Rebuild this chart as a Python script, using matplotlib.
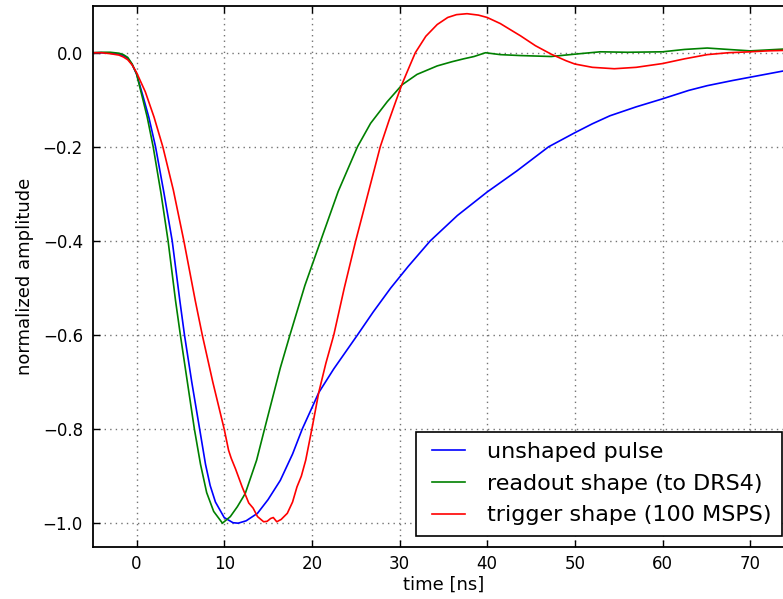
import matplotlib
matplotlib.use("Agg")
import matplotlib.pyplot as plt
from matplotlib.legend_handler import HandlerLine2D

# ---- data ----
blue_t = [-5, -4, -3, -2, -1.5, -1, -0.5, 0, 0.7, 1.4, 2.17, 3.1, 4.07, 4.94, 5.47, 6.3,
          7.2, 7.87, 8.4, 9.0, 10.0, 11.0, 11.6, 12.5, 13.8, 15.0, 16.4, 17.8, 18.9, 20.0,
          20.8, 22.5, 25.2, 27.0, 29.0, 31.0, 33.5, 36.6, 40.0, 43.4, 47.0, 50.0, 52.0,
          54.0, 57.0, 60.0, 63.0, 65.1, 68.0, 70.0, 72.0, 74.0, 75.0]
blue_v = [0.0, 0.0, -0.001, -0.003, -0.006, -0.012, -0.025, -0.045, -0.09, -0.137, -0.20,
          -0.295, -0.40, -0.527, -0.60, -0.70, -0.80, -0.875, -0.92, -0.955, -0.988, -0.999,
          -1.0, -0.995, -0.979, -0.95, -0.909, -0.853, -0.80, -0.755, -0.722, -0.672, -0.60,
          -0.551, -0.500, -0.454, -0.40, -0.346, -0.296, -0.251, -0.200, -0.170, -0.151,
          -0.134, -0.115, -0.098, -0.080, -0.070, -0.059, -0.052, -0.045, -0.038, -0.035]

green_t = [-5, -4, -3, -2, -1.5, -1, -0.5, 0, 0.6, 1.22, 1.9, 2.8, 3.6, 4.45, 5.0, 5.8,
           6.6, 7.3, 8.0, 8.8, 9.8, 10.7, 11.5, 12.4, 13.7, 14.6, 15.5, 16.4, 17.5, 19.2,
           21.0, 23.0, 25.2, 26.7, 28.6, 30.3, 32.0, 34.3, 36.0, 37.3, 38.5, 39.8, 41.5,
           43.8, 47.3, 50.0, 52.9, 56.0, 60.0, 62.5, 65.1, 67.5, 70.0, 72.0, 74.0, 75.0]
green_v = [0.0, 0.001, 0.001, -0.001, -0.004, -0.01, -0.024, -0.045, -0.09, -0.137, -0.20,
           -0.30, -0.40, -0.527, -0.60, -0.70, -0.80, -0.875, -0.935, -0.975, -1.0, -0.986,
           -0.965, -0.937, -0.866, -0.80, -0.735, -0.67, -0.60, -0.495, -0.40, -0.295, -0.20,
           -0.150, -0.104, -0.068, -0.046, -0.028, -0.019, -0.013, -0.008, 0.0, -0.004,
           -0.006, -0.008, -0.003, 0.002, 0.001, 0.002, 0.007, 0.010, 0.007, 0.004, 0.006,
           0.008, 0.008]

red_t = [-5, -4, -3, -2, -1.5, -1, -0.5, 0, 1.0, 2.0, 3.0, 4.2, 5.4, 6.7, 7.5, 8.7, 10.0,
         10.5, 10.8, 11.3, 12.05, 12.8, 13.3, 13.8, 14.5, 14.9, 15.3, 15.6, 16.0, 16.5,
         17.2, 17.8, 18.3, 18.8, 19.3, 20.0, 20.8, 21.6, 22.5, 23.7, 25.0, 26.4, 27.8,
         28.8, 29.6, 30.3, 31.0, 31.8, 33.0, 34.3, 35.5, 36.5, 37.7, 39.0, 40.0, 41.5,
         43.0, 43.8, 45.5, 47.3, 49.0, 50.0, 52.0, 54.5, 57.0, 60.0, 62.5, 65.1, 67.5,
         70.0, 72.0, 74.0, 75.0]
red_v = [0.0, 0.0, -0.002, -0.005, -0.009, -0.015, -0.026, -0.042, -0.083, -0.137, -0.20,
         -0.292, -0.40, -0.527, -0.60, -0.70, -0.80, -0.845, -0.862, -0.885, -0.923, -0.957,
         -0.968, -0.986, -0.997, -0.996, -0.990, -0.988, -0.997, -0.992, -0.979, -0.955,
         -0.923, -0.90, -0.866, -0.80, -0.721, -0.66, -0.60, -0.50, -0.40, -0.30, -0.20,
         -0.144, -0.102, -0.066, -0.035, 0.0, 0.035, 0.060, 0.075, 0.081, 0.083, 0.080,
         0.075, 0.062, 0.045, 0.036, 0.015, -0.003, -0.017, -0.024, -0.031, -0.034, -0.031,
         -0.023, -0.013, -0.004, 0.0, 0.002, 0.004, 0.005, 0.005]

labels = ["unshaped pulse", "readout shape (to DRS4)", "trigger shape (100 MSPS)"]
xticks = [0, 10, 20, 30, 40, 50, 60, 70]
yticks = [0.0, -0.2, -0.4, -0.6, -0.8, -1.0]


class ShortLine(HandlerLine2D):
    """Legend line that starts a little inside its handle box (old matplotlib look)."""
    off = 3.6

    def create_artists(self, legend, orig_handle, xdescent, ydescent, width, height,
                       fontsize, trans):
        return super().create_artists(legend, orig_handle, xdescent - self.off, ydescent,
                                      width - self.off, height, fontsize, trans)


# ---- figure ----
plt.rcParams['font.family'] = ['DejaVu Sans']
fig = plt.figure(figsize=(7.83, 5.99), dpi=100)
ax = fig.add_axes([92.7 / 783, 52.3 / 599, (794 - 92.7) / 783, 541.0 / 599])

l1, = ax.plot(blue_t, blue_v, color='#0000ff', lw=1.2, label=labels[0])
l2, = ax.plot(green_t, green_v, color='#008000', lw=1.2, label=labels[1])
l3, = ax.plot(red_t, red_v, color='#ff0000', lw=1.2, label=labels[2])

ax.set_xlim(-5, 75)
ax.set_ylim(-1.05, 0.1)
ax.set_xticks(xticks)
ax.set_yticks(yticks)
ax.set_yticklabels(['%.1f' % v if v == 0 else '\u2212%.1f' % abs(v) for v in yticks])
ax.grid(True, color='0.45', linestyle=(0, (1, 3)), linewidth=1.0)
ax.tick_params(direction='in', top=True, right=True, length=5, width=1,
               labelsize=12, colors='k')
ax.tick_params(axis='y', pad=7)
ax.tick_params(axis='x', pad=6)
for s in ax.spines.values():
    s.set_linewidth(1.3)

ax.set_xlabel('time [ns]', fontsize=13, labelpad=2)
ax.set_ylabel('normalized amplitude', fontsize=13, labelpad=6)

handler = ShortLine()
leg = ax.legend(handles=[l1, l2, l3], loc='lower right', bbox_to_anchor=(0.9825, 0.0198),
                borderaxespad=0, fontsize=16, fancybox=False, frameon=True,
                handlelength=1.75, handletextpad=0.95, labelspacing=0.52, borderpad=0.48,
                handler_map={l1: handler, l2: handler, l3: handler})
leg.get_frame().set_edgecolor('k')
leg.get_frame().set_linewidth(1.2)
leg.get_frame().set_alpha(1)

fig.savefig('out.png', dpi=100)
